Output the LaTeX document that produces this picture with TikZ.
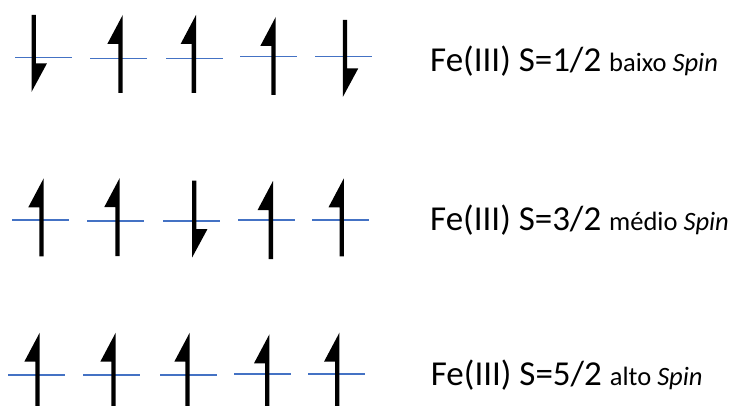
\documentclass[tikz,border=0pt]{standalone}
\usepackage{fontspec}
\setmainfont{Carlito}
\definecolor{orbblue}{HTML}{4472C4}
\newcommand{\SBig}{\fontsize{35}{40}\selectfont}
\newcommand{\SSmall}{\fontsize{26.5}{30}\selectfont}
\begin{document}
\begin{tikzpicture}[x=1pt, y=-1pt,
  orbital/.style={draw=orbblue, line width=1.2pt},
  spinup/.pic={\fill (2.2,0) -- (2.2,78) -- (-2.2,78) -- (-2.2,29)
                  -- (-13.2,29) -- cycle;},
  spindown/.pic={\fill (-2.2,0) -- (2.2,0) -- (2.2,48.5) -- (13.2,48.5)
                  -- (-2.2,77) -- cycle;},
  spintext/.style={anchor=base west, inner sep=0pt, font=\SBig}
]
\clip (0,0) rectangle (735,406);

% Orbitals: line start / line height / shaft centre / arrow top / direction.
\foreach \xa/\y/\c/\t/\dir in {
    15/57.3/33.7/15/down, 90/58.3/120.5/15/up, 166/58.3/193.8/15/up,
    240/56.7/273.5/17/up, 315/56.7/345/20/down,
    12/220/41.5/178.3/up, 87/221/117.5/178/up, 163/221/194.2/180.7/down,
    238/220/270.8/181/up, 312/220/341.7/178.3/up,
    8/375/37.5/332.7/up, 83/375/113.5/332.7/up, 160/375/187.5/332.7/up,
    234/374/267.2/334.3/up, 308/374/337.2/332.7/up}
{
  \draw[orbital] (\xa,\y) -- ++(56.5,0);
  \pic at (\c,\t) {spin\dir};
}

% Spin states.
\node[spintext] (low) at (430,71.7)
  {Fe(III) S=1/2 {\SSmall baixo \textit{Spin}}};
\node[spintext] (mid) at (430,230.7)
  {Fe(III) S=3/2 {\SSmall médio \textit{Spin}}};
\node[spintext] (high) at (430.7,385)
  {Fe(III) S=5/2 {\SSmall alto \textit{Spin}}};
\end{tikzpicture}
\end{document}
